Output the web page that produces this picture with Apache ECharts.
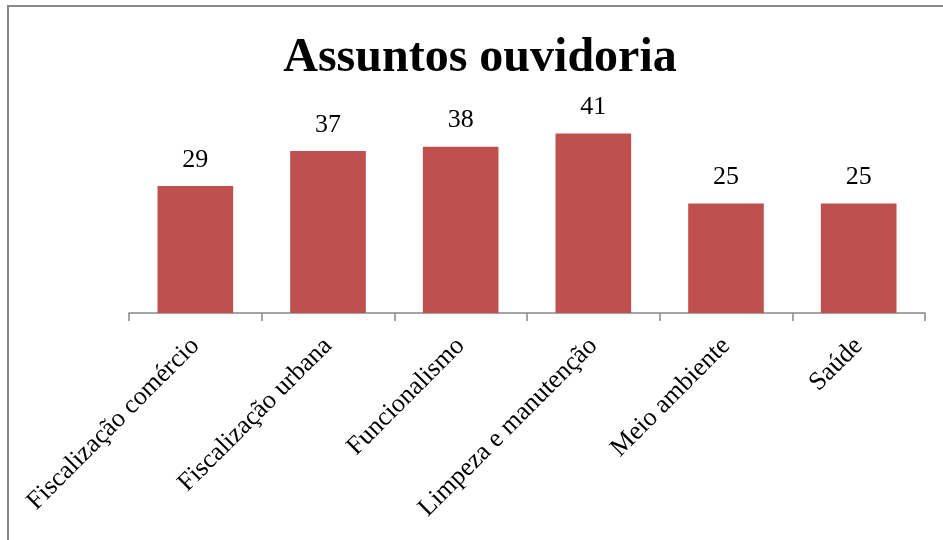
<!DOCTYPE html>
<html><head><meta charset="utf-8">
<script src="https://cdn.jsdelivr.net/npm/echarts@6/dist/echarts.min.js"></script>
<style>html,body{margin:0;padding:0;background:#fff}#c{width:943px;height:540px}</style>
</head><body><div id="c"></div>
<script>
const categories = ['Fiscalização comércio','Fiscalização urbana','Funcionalismo','Limpeza e manutenção','Meio ambiente','Saúde'];
const values = [29, 37, 38, 41, 25, 25];
const titleText = 'Assuntos ouvidoria';
const chart = echarts.init(document.getElementById('c'), null, {renderer:'canvas'});
const serif = '"Liberation Serif","Times New Roman",serif';
chart.setOption({
  animation:false,
  backgroundColor:'#fff',
  graphic:[{type:'rect',shape:{x:8,y:6,width:960,height:560},style:{fill:'none',stroke:'#888',lineWidth:2}}],
  title:{text:titleText,top:30,left:475,textAlign:'center',textStyle:{fontFamily:serif,fontWeight:'bold',fontSize:48,color:'#000'}},
  grid:{left:129,right:18,top:116,bottom:227},
  xAxis:{type:'category',data:categories,
    axisLine:{lineStyle:{color:'#888',width:1.5}},
    axisTick:{show:true,length:8,lineStyle:{color:'#888',width:1.5}},
    axisLabel:{rotate:45,interval:0,fontFamily:serif,fontSize:26,color:'#000',margin:29}},
  yAxis:{type:'value',min:0,max:45,show:false,splitLine:{show:false}},
  series:[{type:'bar',data:values,barCategoryGap:'43%',itemStyle:{color:'#C0504D'},
    label:{show:true,position:'top',distance:13,fontFamily:serif,fontSize:26,color:'#000'}}]
});
</script></body></html>
